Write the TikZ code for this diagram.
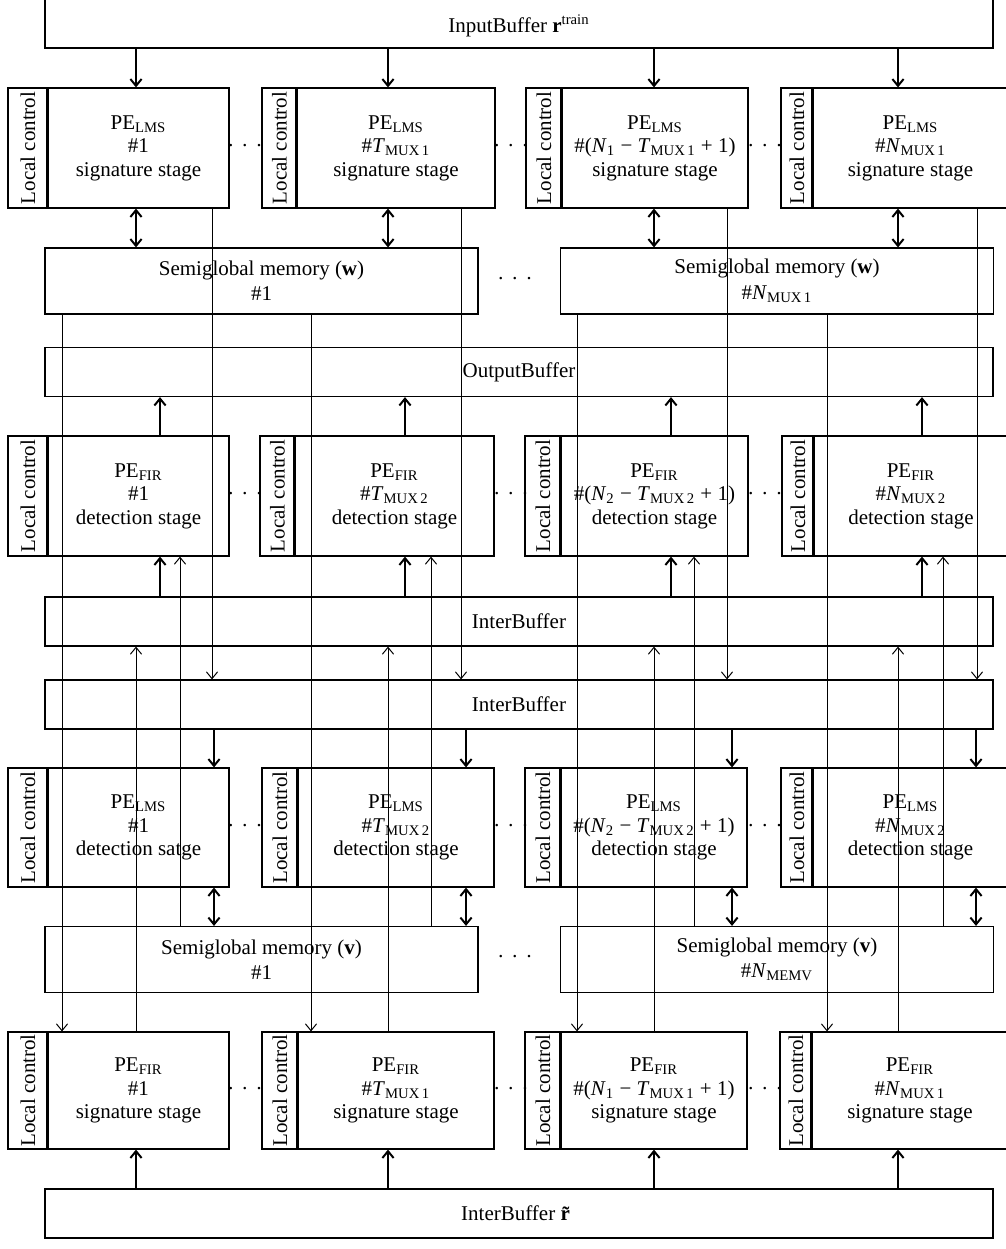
\documentclass[tikz,border=0pt]{standalone}
\usepackage{fontspec}
\setmainfont{Liberation Serif}
\usepackage{tikz}
\usetikzlibrary{arrows.meta, positioning, calc}

\newcommand{\muxT}[1]{\#\textit{T}\textsubscript{MUX\,#1}}
\newcommand{\muxN}[1]{\#\textit{N}\textsubscript{MUX\,#1}}
\newcommand{\muxNT}[1]{\#(\textit{N}\textsubscript{#1} − \textit{T}\textsubscript{MUX\,#1} + 1)}
\newcommand{\dotrow}{·\hspace{3.6pt}·\hspace{3.6pt}·}

% PE block: name, left, divider, right, top, bottom, text
\newcommand{\peblock}[7]{%
	\node[lcbox, minimum width={(#6-#5)*0.5pt}, minimum height={(#3-#2)*0.5pt}] (#1lc) at ({(#2+#3)/2},{(#5+#6)/2}) {Local control};
	\node[box, minimum width={(#4-#3)*0.5pt}, minimum height={(#6-#5)*0.5pt}] (#1) at ({(#3+#4)/2},{(#5+#6)/2}) {#7};
	\draw[line width=1pt] (#1.north west) -- (#1.south west);
}

\begin{document}
\begin{tikzpicture}[x=0.5pt, y=-0.5pt,
		>={Straight Barb[length=3.4pt,width=5.6pt]},
		box/.style={draw, line width=0.6pt, inner sep=0pt, align=center, font=\fontsize{10.5}{11.8}\selectfont},
		lcbox/.style={box, rotate=90},
		buf/.style={box, minimum width=474pt, minimum height=24.5pt},
		mem/.style={box, minimum width=216.5pt, minimum height=33pt, font=\fontsize{10.5}{12.6}\selectfont},
		thk/.style={line width=1pt},
		thn/.style={line width=0.5pt}]
	\useasboundingbox (0,0) rectangle (1006,1249);

	% buffers and memories
	\node[buf, minimum height=25pt, text height=12pt] (inbuf) at (519,23) {InputBuffer \textbf{r}\textsuperscript{train}};
	\node[mem] (memw1) at (261.5,281) {Semiglobal memory (\textbf{w})\\\#1};
	\node[mem] (memw2) at (777,281) {Semiglobal memory (\textbf{w})\\\muxN{1}};
	\node[buf] (outbuf) at (519,372) {OutputBuffer};
	\node[buf] (ib1) at (519,621.5) {InterBuffer};
	\node[buf] (ib2) at (519,704.5) {InterBuffer};
	\node[mem] (memv1) at (261.5,959.5) {Semiglobal memory (\textbf{v})\\\#1};
	\node[mem] (memv2) at (777,959.5) {Semiglobal memory (\textbf{v})\\\#\textit{N}\textsubscript{MEMV}};
	\node[buf] (ibr) at (519,1213.5) {InterBuffer \textbf{\~{r}}};

	% processing elements
	\peblock{slms1}{8}{48}{229}{88}{208}{PE\textsubscript{LMS}\\\#1\\signature stage}
	\peblock{slms2}{262}{297}{495}{88}{208}{PE\textsubscript{LMS}\\\muxT{1}\\signature stage}
	\peblock{slms3}{526}{562}{748}{88}{208}{PE\textsubscript{LMS}\\\muxNT{1}\\signature stage}
	\peblock{slms4}{781}{813}{1008}{88}{208}{PE\textsubscript{LMS}\\\muxN{1}\\signature stage}

	\peblock{dfir1}{8}{48}{229}{436}{556}{PE\textsubscript{FIR}\\\#1\\detection stage}
	\peblock{dfir2}{260}{295}{494}{436}{556}{PE\textsubscript{FIR}\\\muxT{2}\\detection stage}
	\peblock{dfir3}{525}{561}{748}{436}{556}{PE\textsubscript{FIR}\\\muxNT{2}\\detection stage}
	\peblock{dfir4}{782}{814}{1008}{436}{556}{PE\textsubscript{FIR}\\\muxN{2}\\detection stage}

	\peblock{dlms1}{8}{48}{229}{768}{887}{PE\textsubscript{LMS}\\\#1\\detection satge}
	\peblock{dlms2}{262}{298}{494}{768}{887}{PE\textsubscript{LMS}\\\muxT{2}\\detection stage}
	\peblock{dlms3}{525}{561}{747}{768}{887}{PE\textsubscript{LMS}\\\muxNT{2}\\detection stage}
	\peblock{dlms4}{781}{813}{1008}{768}{887}{PE\textsubscript{LMS}\\\muxN{2}\\detection stage}

	\peblock{sfir1}{8}{48}{229}{1032}{1149}{PE\textsubscript{FIR}\\\#1\\signature stage}
	\peblock{sfir2}{262}{298}{494}{1032}{1149}{PE\textsubscript{FIR}\\\muxT{1}\\signature stage}
	\peblock{sfir3}{525}{561}{747}{1032}{1149}{PE\textsubscript{FIR}\\\muxNT{1}\\signature stage}
	\peblock{sfir4}{780}{812}{1008}{1032}{1149}{PE\textsubscript{FIR}\\\muxN{1}\\signature stage}

	% dots between the blocks
	\foreach \y/\r in {148/1, 496/2, 828/4, 1091/5}
		\foreach \x/\k in {245/1, 511/2, 765/3}
			\node[font=\fontsize{10.5}{12}\selectfont] (dots\r\k) at (\x,\y) {\dotrow};
	\node[font=\fontsize{10.5}{12}\selectfont] (dotsw) at (515,281) {\dotrow};
	\node[font=\fontsize{10.5}{12}\selectfont] (dotsv) at (515,959) {\dotrow};

	% connectors, one column at a time
	\foreach \c/\m/\xa/\xb/\xc/\xd/\xe/\xf in {1/1/136/160/180/214/212/62, 2/1/388/405/431/466/461/311, 3/2/654/671/694/732/727/577, 4/2/898/922/943/976/977/827}{
		\coordinate (xa\c) at (\xa,0);
		\coordinate (xb\c) at (\xb,0);
		\coordinate (xc\c) at (\xc,0);
		\coordinate (xd\c) at (\xd,0);
		\coordinate (xe\c) at (\xe,0);
		\coordinate (xf\c) at (\xf,0);
		\draw[thk,->] (inbuf.south -| xa\c) -- (slms\c.north -| xa\c);
		\draw[thk,<->] (slms\c.south -| xa\c) -- (memw\m.north -| xa\c);
		\draw[thk,->] (dfir\c.north -| xb\c) -- (outbuf.south -| xb\c);
		\draw[thk,->] (ib1.north -| xb\c) -- (dfir\c.south -| xb\c);
		\draw[thk,->] (ib2.south -| xd\c) -- (dlms\c.north -| xd\c);
		\draw[thk,<->] (dlms\c.south -| xd\c) -- (memv\m.north -| xd\c);
		\draw[thk,->] (ibr.north -| xa\c) -- (sfir\c.south -| xa\c);
		% long thin lines crossing the other rows
		\draw[thn,->] (slms\c.south -| xe\c) -- (ib2.north -| xe\c);
		\draw[thn,->] (memw\m.south -| xf\c) -- (sfir\c.north -| xf\c);
		\draw[thn,->] (memv\m.north -| xc\c) -- (dfir\c.south -| xc\c);
		\draw[thn,->] (sfir\c.north -| xa\c) -- (ib1.south -| xa\c);
	}
\end{tikzpicture}
\end{document}
